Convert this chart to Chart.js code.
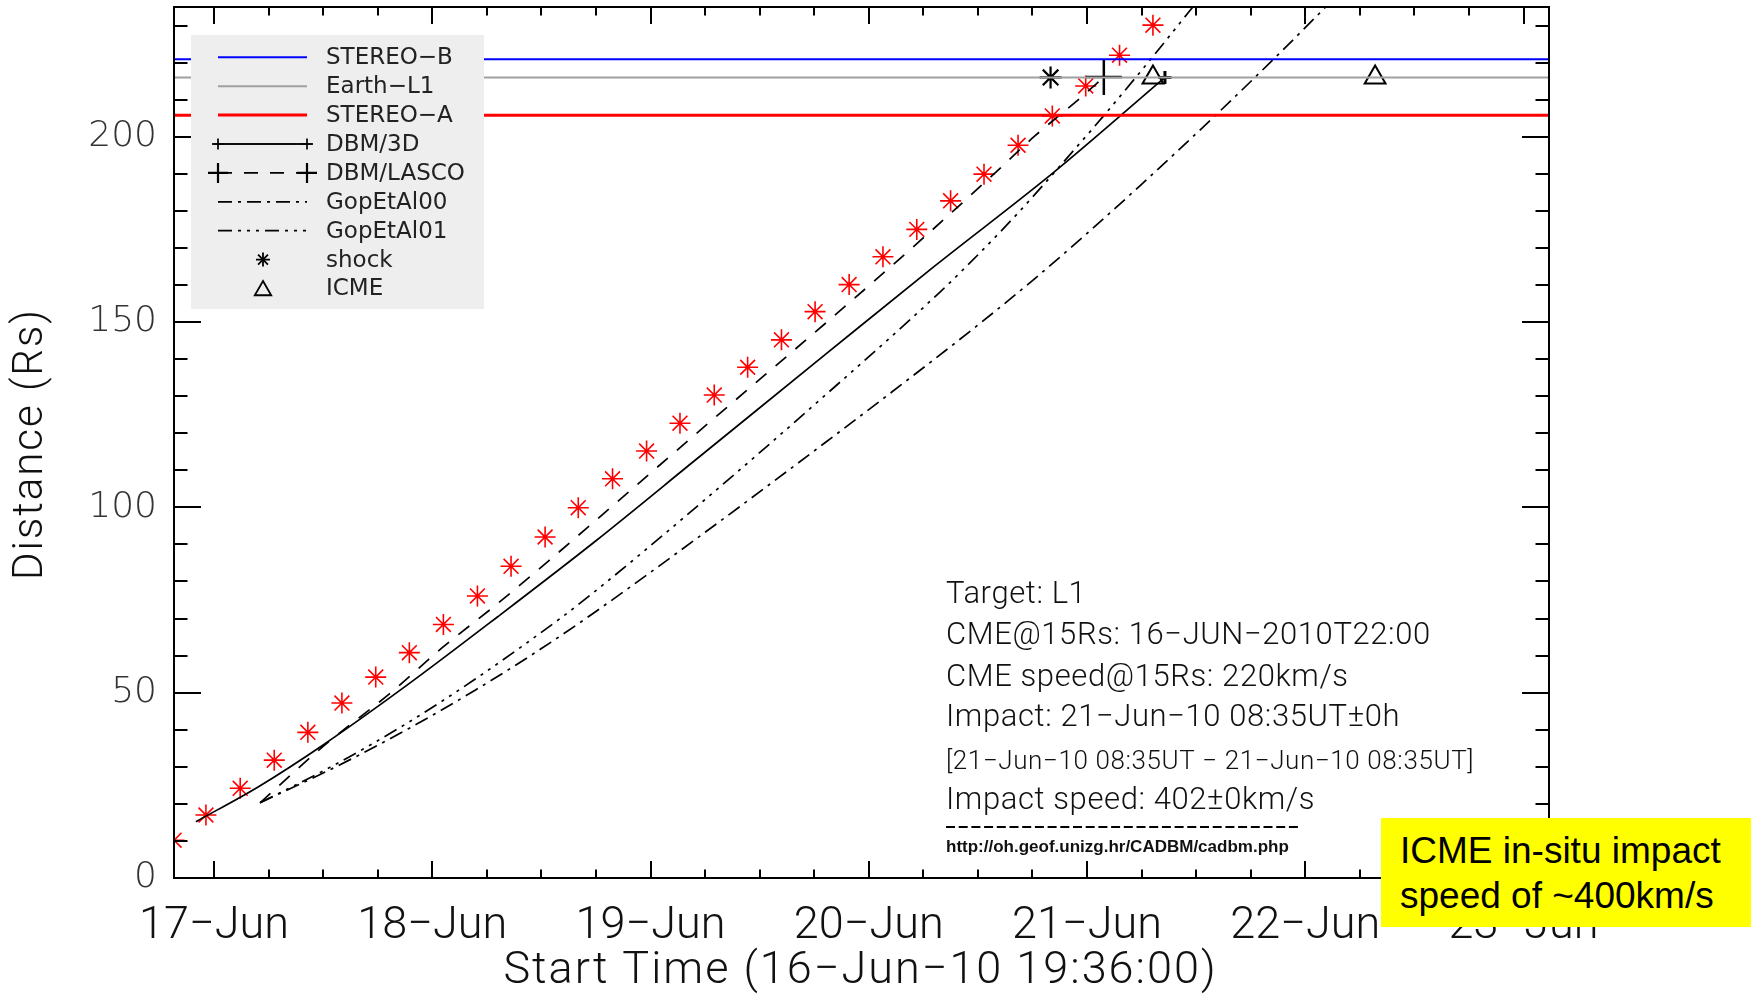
<!DOCTYPE html>
<html>
<head>
<meta charset="utf-8">
<title>CME distance vs time</title>
<script src="https://cdn.jsdelivr.net/npm/chart.js@4.4.1/dist/chart.umd.min.js"></script>
<style>
  html, body { margin: 0; padding: 0; background: #fff; }
  #wrap { position: relative; width: 1756px; height: 994px; }
  #note {
    position: absolute; left: 1381px; top: 818px; width: 370px; height: 109px;
    box-sizing: border-box; padding: 10px 0 0 19px;
    background: #ffff00; color: #000;
    font-family: 'Liberation Sans', Arial, sans-serif; font-size: 37px; line-height: 45px;
  }
</style>
</head>
<body>
<div id="wrap">
  <canvas id="chart" width="1756" height="994"></canvas>
  <div id="note">ICME in-situ impact<br>speed of ~400km/s</div>
</div>
<script>
// axes: x in days counted from 17-Jun 00:00, y in solar radii
const dayTicks = [0, 1, 2, 3, 4, 5, 6];
const dayLabels = ['17−Jun', '18−Jun', '19−Jun', '20−Jun', '21−Jun', '22−Jun', '23−Jun'];
const distTicks = [0, 50, 100, 150, 200];
const distLabels = ['0', '50', '100', '150', '200'];
const xRange = [-0.1833, 6.1167];
const yRange = [0, 235];

// spacecraft distances
const stereoB = 220.9;
const earthL1 = 216.0;
const stereoA = 205.8;

// red asterisks
const starDays = [-0.183, -0.037, 0.12, 0.276, 0.43, 0.586, 0.741, 0.895, 1.051, 1.207,
  1.361, 1.517, 1.669, 1.826, 1.982, 2.135, 2.292, 2.445, 2.60, 2.754,
  2.91, 3.065, 3.22, 3.375, 3.528, 3.684, 3.841, 3.994, 4.149, 4.302];
const starDist = [10.2, 17.0, 24.2, 31.8, 39.3, 47.2, 54.2, 60.8, 68.4, 76.1,
  84.1, 92.0, 99.9, 107.7, 115.2, 122.7, 130.3, 137.8, 145.2, 152.8,
  160.1, 167.6, 175.0, 182.7, 189.9, 197.7, 205.6, 213.7, 222.0, 230.1];

// model curves
const dbm3dDays = [-0.083, 0.2, 0.5, 0.9, 1.3, 1.75, 2.2, 2.8, 3.3, 3.85, 4.357];
const dbm3dDist = [15.2, 24.5, 35.9, 52.7, 70.5, 91, 112.5, 141.2, 165, 190.5, 216];

const lascoDays = [0.211, 0.5, 0.814, 1.043, 1.288, 1.532, 1.70, 2.261, 2.887, 3.269, 3.589, 3.757, 3.97, 4.077];
const lascoDist = [20.3, 35.5, 50.2, 62, 73.5, 85.5, 94, 122.5, 154, 173.7, 190.8, 200, 210.5, 216.1];

const gop00Days = [0.211, 0.555, 0.891, 1.2, 1.5, 1.73, 2.2, 2.81, 3.2, 3.513, 3.75, 4.0, 4.245, 4.6, 4.856, 5.07, 5.12];
const gop00Dist = [20.3, 29.9, 40.3, 50.8, 61.9, 71.1, 91.1, 117.9, 135.4, 149.8, 161.2, 173.9, 186.9, 206.4, 221, 233.6, 236.6];

const gop01Days = [0.211, 0.555, 0.891, 1.2, 1.59, 1.73, 2.2, 2.811, 3.33, 3.513, 3.696, 3.9, 4.077, 4.3, 4.467, 4.5];
const gop01Dist = [20.3, 30.6, 42, 53.8, 70.2, 76.6, 99.6, 130.8, 158.3, 168.9, 180.2, 193.7, 205.7, 221.5, 233.7, 236.1];

// in-situ arrivals
const shockDays = [3.833];
const shockDist = [216];
const icmeDays = [4.302, 5.32];
const icmeDist = [216, 216];

const legendLabels = ['STEREO−B', 'Earth−L1', 'STEREO−A', 'DBM/3D', 'DBM/LASCO', 'GopEtAl00', 'GopEtAl01', 'shock', 'ICME'];

const xTitle = 'Start Time (16−Jun−10 19:36:00)';
const yTitle = 'Distance (Rs)';

const infoLines = [
  { text: 'Target: L1', y: 595, size: 31 },
  { text: 'CME@15Rs: 16−JUN−2010T22:00', y: 636, size: 31 },
  { text: 'CME speed@15Rs: 220km/s', y: 678, size: 31 },
  { text: 'Impact: 21−Jun−10 08:35UT±0h', y: 718, size: 31 },
  { text: '[21−Jun−10 08:35UT − 21−Jun−10 08:35UT]', y: 762, size: 26 },
  { text: 'Impact speed: 402±0km/s', y: 801, size: 31 }
];
const sourceUrl = 'http://oh.geof.unizg.hr/CADBM/cadbm.php';

function pairs(xs, ys) {
  return xs.map((x, i) => ({ x: x, y: ys[i] }));
}

function flat(value) {
  return [{ x: xRange[0], y: value }, { x: xRange[1], y: value }];
}

function lastOnly(n, r) {
  return ctx => ctx.dataIndex === n - 1 ? r : 0;
}

// small marker helpers for the legend
function plus(ctx, cx, cy, r) {
  ctx.beginPath();
  ctx.moveTo(cx - r, cy); ctx.lineTo(cx + r, cy);
  ctx.moveTo(cx, cy - r); ctx.lineTo(cx, cy + r);
  ctx.stroke();
}
function star(ctx, cx, cy, r) {
  const d = r * 0.707;
  plus(ctx, cx, cy, r);
  ctx.beginPath();
  ctx.moveTo(cx - d, cy - d); ctx.lineTo(cx + d, cy + d);
  ctx.moveTo(cx - d, cy + d); ctx.lineTo(cx + d, cy - d);
  ctx.stroke();
}
function triangle(ctx, cx, cy, r) {
  ctx.beginPath();
  ctx.moveTo(cx, cy - r);
  ctx.lineTo(cx + r * 0.866, cy + r * 0.5);
  ctx.lineTo(cx - r * 0.866, cy + r * 0.5);
  ctx.closePath();
  ctx.stroke();
}

const datasets = [
  { label: 'STEREO−B', data: flat(stereoB), showLine: true, borderColor: '#0000ff', borderWidth: 2, pointRadius: 0 },
  { label: 'Earth−L1', data: flat(earthL1), showLine: true, borderColor: '#a0a0a0', borderWidth: 2, pointRadius: 0 },
  { label: 'STEREO−A', data: flat(stereoA), showLine: true, borderColor: '#ff0000', borderWidth: 3, pointRadius: 0 },
  {
    label: 'DBM/3D', data: pairs(dbm3dDays, dbm3dDist), showLine: true,
    borderColor: '#000', borderWidth: 1.7, cubicInterpolationMode: 'monotone',
    pointStyle: 'cross', pointRadius: lastOnly(dbm3dDays.length, 6.5), pointBorderWidth: 3, pointBorderColor: '#000'
  },
  {
    label: 'DBM/LASCO', data: pairs(lascoDays, lascoDist), showLine: true,
    borderColor: '#000', borderWidth: 1.7, borderDash: [14, 12], cubicInterpolationMode: 'monotone',
    pointStyle: 'cross', pointRadius: lastOnly(lascoDays.length, 18), pointBorderWidth: 2.5, pointBorderColor: '#000'
  },
  {
    label: 'GopEtAl00', data: pairs(gop00Days, gop00Dist), showLine: true,
    borderColor: '#000', borderWidth: 1.7, borderDash: [14, 6, 3, 6], cubicInterpolationMode: 'monotone', pointRadius: 0
  },
  {
    label: 'GopEtAl01', data: pairs(gop01Days, gop01Dist), showLine: true,
    borderColor: '#000', borderWidth: 1.7, borderDash: [14, 6, 3, 6, 3, 6, 3, 6], cubicInterpolationMode: 'monotone', pointRadius: 0
  },
  {
    label: 'model', data: pairs(starDays, starDist), showLine: false,
    pointStyle: 'star', pointRadius: 10.5, pointBorderColor: '#ff0000', pointBorderWidth: 1.6
  },
  {
    label: 'shock', data: pairs(shockDays, shockDist), showLine: false,
    pointStyle: 'star', pointRadius: 11, pointBorderColor: '#000', pointBorderWidth: 2.2
  },
  {
    label: 'ICME', data: pairs(icmeDays, icmeDist), showLine: false,
    pointStyle: 'triangle', pointRadius: 12, pointBorderColor: '#000', pointBackgroundColor: 'rgba(0,0,0,0)', pointBorderWidth: 2
  }
];
datasets.forEach(ds => { ds.clip = 0; });

// box with inward ticks on all four sides
const frameTicks = {
  id: 'frameTicks',
  afterDatasetsDraw(chart) {
    const { ctx, chartArea: a, scales: { x, y } } = chart;
    ctx.save();
    ctx.strokeStyle = '#000';
    ctx.lineWidth = 2;
    ctx.strokeRect(a.left, a.top, a.right - a.left, a.bottom - a.top);
    ctx.beginPath();
    for (let q = Math.ceil(x.min * 4); q <= Math.floor(x.max * 4); q++) {
      const px = Math.round(x.getPixelForValue(q / 4));
      const len = q % 4 === 0 ? 17 : 8.5;
      ctx.moveTo(px, a.bottom); ctx.lineTo(px, a.bottom - len);
      ctx.moveTo(px, a.top); ctx.lineTo(px, a.top + len);
    }
    for (let v = 0; v <= y.max; v += 10) {
      const py = Math.round(y.getPixelForValue(v));
      const len = v % 50 === 0 ? 27 : 13.5;
      ctx.moveTo(a.left, py); ctx.lineTo(a.left + len, py);
      ctx.moveTo(a.right, py); ctx.lineTo(a.right - len, py);
    }
    ctx.stroke();
    ctx.restore();
  }
};

// axis titles, legend box and the text block
const overlay = {
  id: 'overlay',
  afterDraw(chart) {
    const { ctx, chartArea: a } = chart;
    ctx.save();

    // axis titles (letter-spaced like the original)
    ctx.fillStyle = '#111';
    ctx.textAlign = 'center';
    ctx.textBaseline = 'middle';
    ctx.font = "300 45px Roboto, 'Liberation Sans', sans-serif";
    ctx.letterSpacing = '2px';
    ctx.fillText(xTitle, (a.left + a.right) / 2 - 1, 972);
    ctx.save();
    ctx.translate(31, 444);
    ctx.rotate(-Math.PI / 2);
    ctx.font = "300 42px Roboto, 'Liberation Sans', sans-serif";
    ctx.fillText(yTitle, 0, 0);
    ctx.restore();
    ctx.letterSpacing = '0px';
    ctx.textAlign = 'left';

    ctx.fillStyle = '#eeeeee';
    ctx.fillRect(191, 35, 293, 274);

    ctx.font = "23px 'DejaVu Sans', sans-serif";
    legendLabels.forEach((label, i) => {
      const ds = chart.data.datasets.find(d => d.label === label);
      const yy = 57.3 + i * 28.9;
      ctx.strokeStyle = ds.borderColor || ds.pointBorderColor;
      ctx.lineWidth = ds.borderWidth || 1.7;
      if (ds.showLine) {
        ctx.setLineDash(ds.borderDash || []);
        ctx.beginPath();
        ctx.moveTo(218, yy);
        ctx.lineTo(307, yy);
        ctx.stroke();
        ctx.setLineDash([]);
      }
      if (label === 'DBM/3D') {
        ctx.lineWidth = 1.7;
        plus(ctx, 218, yy, 5.5); plus(ctx, 307, yy, 5.5);
        ctx.beginPath(); ctx.moveTo(212, yy); ctx.lineTo(313, yy); ctx.stroke();
      } else if (label === 'DBM/LASCO') {
        ctx.lineWidth = 2.2;
        plus(ctx, 218, yy, 10); plus(ctx, 307, yy, 10);
      } else if (label === 'shock') {
        ctx.lineWidth = 1.8;
        star(ctx, 263, yy, 7);
      } else if (label === 'ICME') {
        ctx.lineWidth = 1.8;
        triangle(ctx, 263, yy + 2, 9.5);
      }
      ctx.fillStyle = '#222';
      ctx.fillText(label, 326, yy + 1);
    });

    ctx.fillStyle = '#111';
    ctx.letterSpacing = '0.6px';
    infoLines.forEach(line => {
      ctx.font = `300 ${line.size}px Roboto, 'Liberation Sans', sans-serif`;
      ctx.fillText(line.text, 946, line.y);
    });
    ctx.letterSpacing = '0px';
    ctx.strokeStyle = '#000';
    ctx.lineWidth = 2;
    ctx.setLineDash([9, 3.7]);
    ctx.beginPath();
    ctx.moveTo(946, 827);
    ctx.lineTo(1301, 827);
    ctx.stroke();
    ctx.setLineDash([]);
    ctx.font = "bold 17px 'Liberation Sans', sans-serif";
    ctx.fillText(sourceUrl, 946, 847);
    ctx.restore();
  }
};

Chart.defaults.font.family = "Roboto, 'Liberation Sans', sans-serif";
Chart.defaults.color = '#222';

new Chart(document.getElementById('chart'), {
  type: 'scatter',
  data: { datasets: datasets },
  options: {
    responsive: false,
    devicePixelRatio: 1,
    animation: false,
    layout: { autoPadding: false, padding: { left: 0, top: 7, right: 207, bottom: 0 } },
    plugins: { legend: { display: false }, tooltip: { enabled: false } },
    scales: {
      x: {
        type: 'linear',
        min: xRange[0],
        max: xRange[1],
        grid: { display: false, drawTicks: false },
        border: { display: false },
        afterBuildTicks: s => { s.ticks = dayTicks.map(v => ({ value: v })); },
        afterFit: s => { s.height = 116; s.paddingLeft = 0; s.paddingRight = 0; },
        ticks: {
          autoSkip: false,
          maxRotation: 0,
          padding: 22,
          color: '#111',
          font: { size: 45, weight: 300 },
          callback: v => dayLabels[dayTicks.indexOf(v)]
        }
      },
      y: {
        type: 'linear',
        min: yRange[0],
        max: yRange[1],
        grid: { display: false, drawTicks: false },
        border: { display: false },
        afterBuildTicks: s => { s.ticks = distTicks.map(v => ({ value: v })); },
        afterFit: s => { s.width = 174; s.paddingTop = 0; s.paddingBottom = 0; },
        ticks: {
          padding: 17,
          color: '#333',
          font: { family: "'DejaVu Sans', sans-serif", size: 36, weight: 200 },
          callback: v => distLabels[distTicks.indexOf(v)]
        }
      }
    }
  },
  plugins: [frameTicks, overlay]
});
</script>
</body>
</html>
